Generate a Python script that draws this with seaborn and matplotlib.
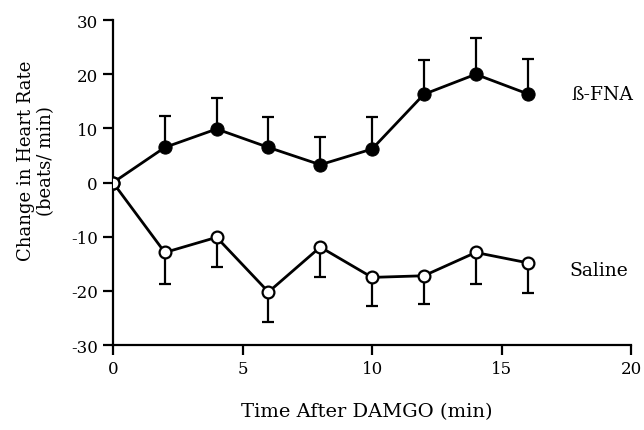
import numpy as np
import pandas as pd
import seaborn as sns
import matplotlib.pyplot as plt

# Datos
tiempo = [0, 2, 4, 6, 8, 10, 12, 14, 16]
fna_media = [0, 6.5, 9.9, 6.5, 3.3, 6.2, 16.3, 20.0, 16.4]
fna_tope = [0, 12.3, 15.7, 12.2, 8.5, 12.2, 22.6, 26.7, 22.8]
salina_media = [0, -12.9, -10.1, -20.2, -11.9, -17.5, -17.2, -12.9, -14.8]
salina_fondo = [0, -18.7, -15.5, -25.7, -17.4, -22.7, -22.4, -18.8, -20.4]

etiquetas = ["ß-FNA", "Saline"]
x_ticks = [0, 5, 10, 15, 20]
y_ticks = [-30, -20, -10, 0, 10, 20, 30]

df = pd.DataFrame({
    'Tiempo': tiempo,
    'FNA': fna_media,
    'Salina': salina_media,
})

sns.set_theme(style="ticks")
plt.rcParams['font.family'] = ['DejaVu Serif']
plt.rcParams['axes.unicode_minus'] = False
plt.rcParams['text.color'] = 'black'
plt.rcParams['axes.labelcolor'] = 'black'

fig = plt.figure(figsize=(6.44, 4.31), dpi=100)
ax = fig.add_axes([0.1755, 0.197, 0.8045, 0.754])

# Barras de error de un solo lado
err_fna = np.array(fna_tope) - np.array(fna_media)
err_sal = np.array(salina_media) - np.array(salina_fondo)
ax.errorbar(tiempo[1:], fna_media[1:], yerr=[np.zeros(8), err_fna[1:]],
            fmt='none', ecolor='black', elinewidth=1.6, capsize=4, capthick=1.6, zorder=2)
ax.errorbar(tiempo[1:], salina_media[1:], yerr=[err_sal[1:], np.zeros(8)],
            fmt='none', ecolor='black', elinewidth=1.6, capsize=4, capthick=1.6, zorder=2)

sns.lineplot(x='Tiempo', y='FNA', data=df, ax=ax, color='black', linewidth=2,
             marker='o', markersize=9.5, markerfacecolor='black', markeredgecolor='black', zorder=3)
sns.lineplot(x='Tiempo', y='Salina', data=df, ax=ax, color='black', linewidth=2,
             marker='o', markersize=8.5, markerfacecolor='white', markeredgecolor='black',
             markeredgewidth=1.6, zorder=4)

ax.text(17.7, fna_media[-1], etiquetas[0], fontsize=13.5, va='center', ha='left', clip_on=False)
ax.text(17.6, salina_media[-1] - 1.4, etiquetas[1], fontsize=13.5, va='center', ha='left', clip_on=False)

ax.set_xlim(0, 20)
ax.set_ylim(-30, 30)
ax.set_xticks(x_ticks)
ax.set_yticks(y_ticks)
ax.tick_params(axis='both', direction='out', length=7, width=1.6, labelsize=12,
               colors='black', labelcolor='black', pad=4)
for s in ['left', 'bottom']:
    ax.spines[s].set_linewidth(1.6)
    ax.spines[s].set_color('black')
sns.despine(ax=ax)

ax.set_xlabel("Time After DAMGO (min)", fontsize=14)
ax.set_ylabel("Change in Heart Rate\n(beats/ min)", fontsize=13, linespacing=1.15)
ax.xaxis.set_label_coords(0.49, -0.175)
ax.yaxis.set_label_coords(-0.112, 0.57)

plt.savefig("out.png", dpi=100)
plt.close()
